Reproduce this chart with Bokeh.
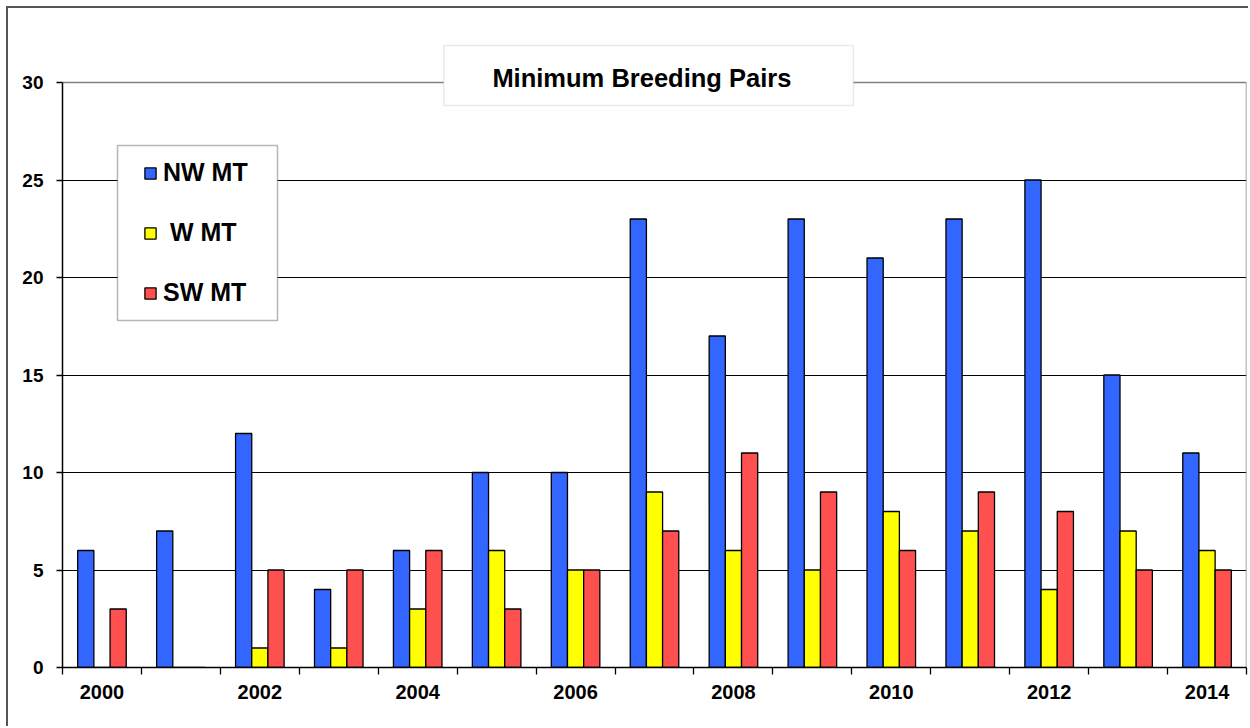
from bokeh.plotting import figure
from bokeh.models import FixedTicker, BoxAnnotation, Label, Legend, LegendItem, Grid
from bokeh.embed import file_html
from bokeh.resources import INLINE

# ---- data ----
years = [str(y) for y in range(2000, 2015)]
nw_mt = [6, 7, 12, 4, 6, 10, 10, 23, 17, 23, 21, 23, 25, 15, 11]
w_mt = [0, 0, 1, 1, 3, 6, 5, 9, 6, 5, 8, 7, 4, 7, 6]
sw_mt = [3, 0, 5, 5, 6, 3, 5, 7, 11, 9, 6, 9, 8, 5, 5]
series_names = ["NW MT", " W MT", "SW MT"]
series_colors = ["#3366FF", "#FFFF00", "#FF5050"]
y_ticks = [0, 5, 10, 15, 20, 25, 30]
title_text = "Minimum Breeding Pairs"

FONT = "Liberation Sans"
y_max = y_ticks[-1]
y_top = y_max + 42 / 19.5   # extra room above the plot area for the title box

p = figure(width=1242, height=720, x_range=(0, len(years)), y_range=(0, y_top),
           output_backend="svg", toolbar_location=None,
           min_border_left=54, min_border_right=4, min_border_top=32, min_border_bottom=61)
p.background_fill_color = "white"
p.border_fill_color = "white"
p.outline_line_color = None
p.styles = {"border-top": "2px solid #555555", "border-left": "2px solid #555555",
            "margin-left": "6px", "margin-top": "6px"}

centers = [i + 0.5 for i in range(len(years))]
bar_w = 0.205
offsets = [-bar_w, 0.0, bar_w]
renderers = []
for vals, off, col in zip([nw_mt, w_mt, sw_mt], offsets, series_colors):
    r = p.vbar(x=[c + off for c in centers], top=vals, width=bar_w,
               fill_color=col, line_color="black", line_width=1.3)
    renderers.append(r)

# plot-area right border
p.segment(x0=[len(years)], y0=[0], x1=[len(years)], y1=[y_max],
          line_color="#888888", line_width=1.5)

# axes
p.xaxis.ticker = FixedTicker(ticks=[centers[i] for i in range(0, len(years), 2)],
                             minor_ticks=list(range(len(years) + 1)))
p.xaxis.major_label_overrides = {centers[i]: years[i] for i in range(0, len(years), 2)}
p.xaxis.major_tick_out = 0
p.xaxis.major_tick_in = 0
p.xaxis.minor_tick_out = 7
p.xaxis.minor_tick_in = 0
p.xaxis.minor_tick_line_color = "black"
p.xaxis.minor_tick_line_width = 1.3
p.xaxis.axis_line_color = "black"
p.xaxis.axis_line_width = 1.5
p.xaxis.major_label_standoff = 10
p.xaxis.major_label_text_font = FONT
p.xaxis.major_label_text_font_style = "bold"
p.xaxis.major_label_text_font_size = "20px"
p.xaxis.major_label_text_color = "black"

p.yaxis.ticker = FixedTicker(ticks=y_ticks)
p.yaxis.bounds = (0, y_max)
p.yaxis.major_tick_out = 6
p.yaxis.major_tick_in = 0
p.yaxis.major_tick_line_color = "black"
p.yaxis.major_tick_line_width = 1.3
p.yaxis.axis_line_color = "black"
p.yaxis.axis_line_width = 1.5
p.yaxis.major_label_standoff = 13
p.yaxis.major_label_text_font = FONT
p.yaxis.major_label_text_font_style = "bold"
p.yaxis.major_label_text_font_size = "19px"
p.yaxis.major_label_text_color = "black"

p.xgrid.visible = False
p.ygrid.ticker = FixedTicker(ticks=y_ticks[1:-1])
p.ygrid.grid_line_color = "black"
p.ygrid.grid_line_width = 1.2
p.add_layout(Grid(dimension=1, ticker=FixedTicker(ticks=[y_max]),
                  grid_line_color="#808080", grid_line_width=1.5))

# title box
p.add_layout(BoxAnnotation(left=4.83, right=10.02, top=31.9, bottom=28.82,
                           fill_color="white", fill_alpha=1.0,
                           line_color="#BBBBBB", line_width=1.5))
p.add_layout(Label(x=7.34, y=30.24, text=title_text, text_align="center",
                   text_baseline="alphabetic", text_font=FONT, text_font_style="bold",
                   text_font_size="25.5px", text_color="black"))

# legend box
p.add_layout(BoxAnnotation(left=0.697, right=2.724, top=26.77, bottom=17.79,
                           fill_color="white", fill_alpha=1.0,
                           line_color="#111111", line_width=1.5))
legend = Legend(items=[LegendItem(label=n, renderers=[r]) for n, r in zip(series_names, renderers)],
                location=(81, 360), orientation="vertical",
                label_text_font=FONT, label_text_font_style="bold",
                label_text_font_size="25px", label_text_color="black",
                glyph_width=14, glyph_height=14, label_standoff=6, spacing=31,
                padding=0, margin=0, border_line_color=None,
                background_fill_alpha=0)
p.add_layout(legend)

open("out.html", "w").write(file_html(p, INLINE))
